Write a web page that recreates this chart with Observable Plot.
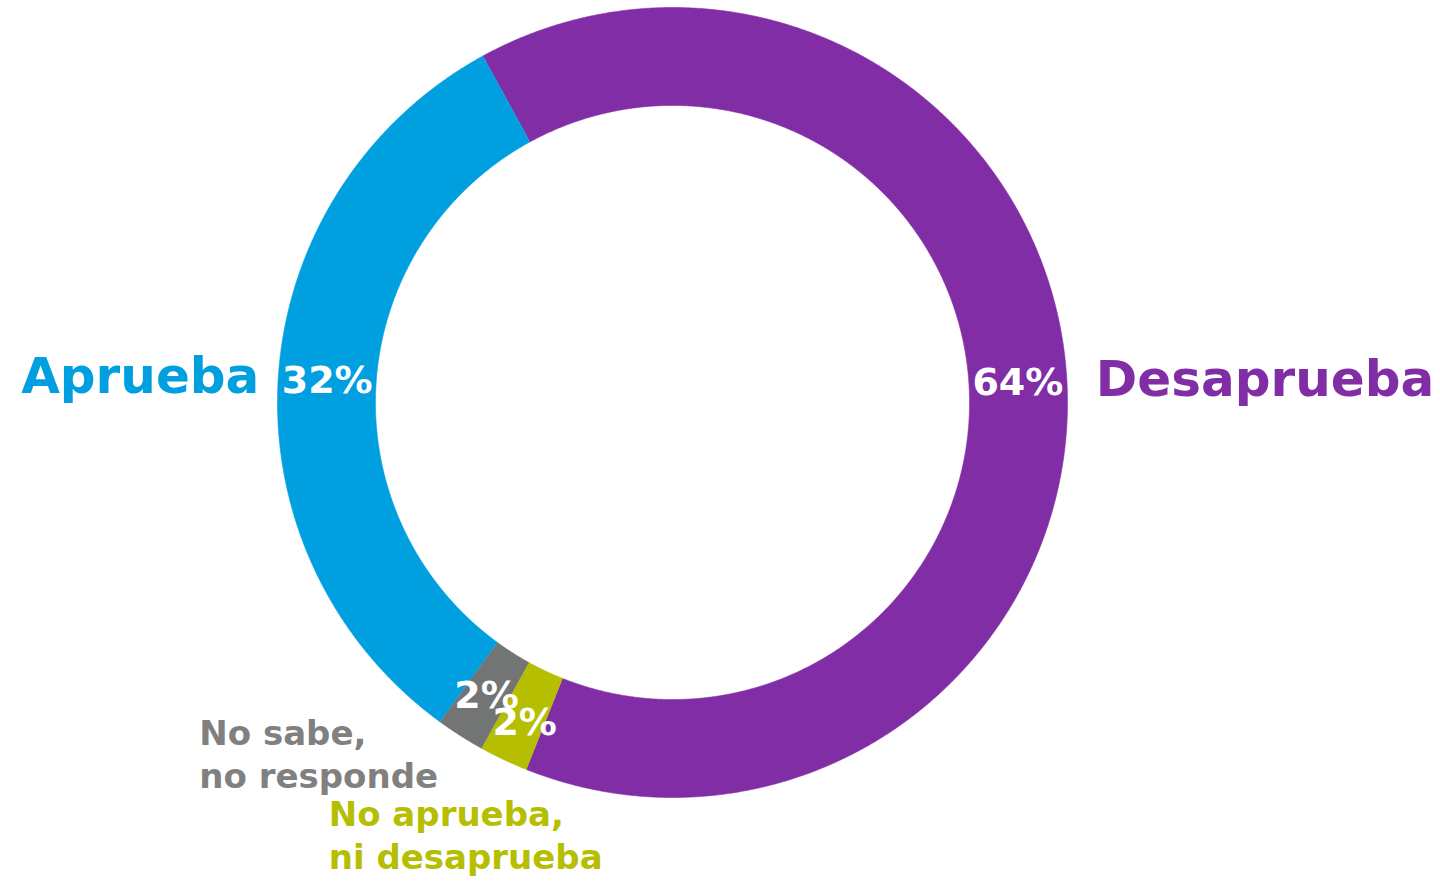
<!DOCTYPE html>
<html>
<head>
<meta charset="utf-8">
<script src="https://cdn.jsdelivr.net/npm/d3@7"></script>
<script src="https://cdn.jsdelivr.net/npm/@observablehq/plot@0.6"></script>
<style>
  html, body { margin: 0; padding: 0; background: #ffffff; }
  #chart svg { display: block; }
</style>
</head>
<body>
<div id="chart"></div>
<script>
// ---- data ----
const categories = ["Desaprueba", "No aprueba, ni desaprueba", "No sabe, no responde", "Aprueba"];
const values = [64, 2, 2, 32];
const colors = ["#812ea6", "#b5be00", "#737474", "#009fe0"];
const valueLabels = ["64%", "2%", "2%", "32%"];
const nameLabels = ["Desaprueba", "No aprueba,\nni desaprueba", "No sabe,\nno responde", "Aprueba"];
const textColors = ["#812ea6", "#b5be00", "#808080", "#009fe0"];

// ---- layout ----
const W = 1440, H = 882;
const cx = 672, cy = 402, R = 395;       // pixel centre and outer radius
const inner = 0.752;                      // inner radius as share of outer
const start = -28.7 * Math.PI / 180;      // angle of first slice, clockwise from 12 o'clock

const pie = d3.pie().sort(null).value(d => d.value)
  .startAngle(start).endAngle(start + 2 * Math.PI);
const arcs = pie(categories.map((c, i) => ({category: c, value: values[i], i})));

// polygon points of each ring slice, in unit coordinates (y up)
const pts = [];
for (const a of arcs) {
  const n = Math.max(8, Math.ceil((a.endAngle - a.startAngle) / 0.004));
  const ring = [];
  for (let k = 0; k <= n; k++) {
    const t = a.startAngle + (a.endAngle - a.startAngle) * k / n;
    ring.push({category: a.data.category, x: Math.sin(t), y: Math.cos(t)});
  }
  for (let k = n; k >= 0; k--) {
    const t = a.startAngle + (a.endAngle - a.startAngle) * k / n;
    ring.push({category: a.data.category, x: inner * Math.sin(t), y: inner * Math.cos(t)});
  }
  pts.push(...ring);
}

const mid = a => (a.startAngle + a.endAngle) / 2;
const rMid = (1 + inner) / 2;
const pctData = arcs.map(a => ({
  x: rMid * Math.sin(mid(a)), y: rMid * Math.cos(mid(a)), text: valueLabels[a.data.i], i: a.data.i
}));
const outerPt = i => ({
  x: Math.sin(mid(arcs[i])), y: Math.cos(mid(arcs[i])),
  text: nameLabels[i], color: textColors[i]
});

const font = "'DejaVu Sans', sans-serif";

const chart = Plot.plot({
  width: W, height: H,
  margin: 0,
  x: {domain: [-cx / R, (W - cx) / R], axis: null},
  y: {domain: [-(H - cy) / R, cy / R], axis: null},
  color: {domain: categories, range: colors},
  style: {fontFamily: font, background: "#ffffff"},
  marks: [
    Plot.line(pts, {x: "x", y: "y", z: "category", fill: "category", stroke: "category", strokeWidth: 0.6, curve: "linear"}),
    Plot.text(pctData.filter(d => d.i !== 1), {x: "x", y: "y", text: "text", fill: "white", fontSize: 38, fontWeight: "bold", textAnchor: "middle", lineAnchor: "middle", dy: 1}),
    Plot.text(pctData.filter(d => d.i === 1), {x: "x", y: "y", text: "text", fill: "white", fontSize: 38, fontWeight: "bold", textAnchor: "middle", lineAnchor: "middle", dy: 7}),
    // Desaprueba
    Plot.text([outerPt(0)], {x: "x", y: "y", text: "text", fill: "color", fontSize: 50, fontWeight: "bold", textAnchor: "start", lineAnchor: "middle", dx: 29, dy: 2}),
    // Aprueba
    Plot.text([outerPt(3)], {x: "x", y: "y", text: "text", fill: "color", fontSize: 50, fontWeight: "bold", textAnchor: "end", lineAnchor: "middle", dx: -19, dy: 0}),
    // No sabe, no responde
    Plot.text([outerPt(2)], {x: "x", y: "y", text: "text", fill: "color", fontSize: 34, fontWeight: "bold", textAnchor: "start", lineAnchor: "top", lineHeight: 1.27, dx: -261, dy: -21}),
    // No aprueba, ni desaprueba
    Plot.text([outerPt(1)], {x: "x", y: "y", text: "text", fill: "color", fontSize: 34, fontWeight: "bold", textAnchor: "start", lineAnchor: "top", lineHeight: 1.27, dx: -175, dy: 36})
  ]
});
document.getElementById("chart").appendChild(chart);
</script>
</body>
</html>
